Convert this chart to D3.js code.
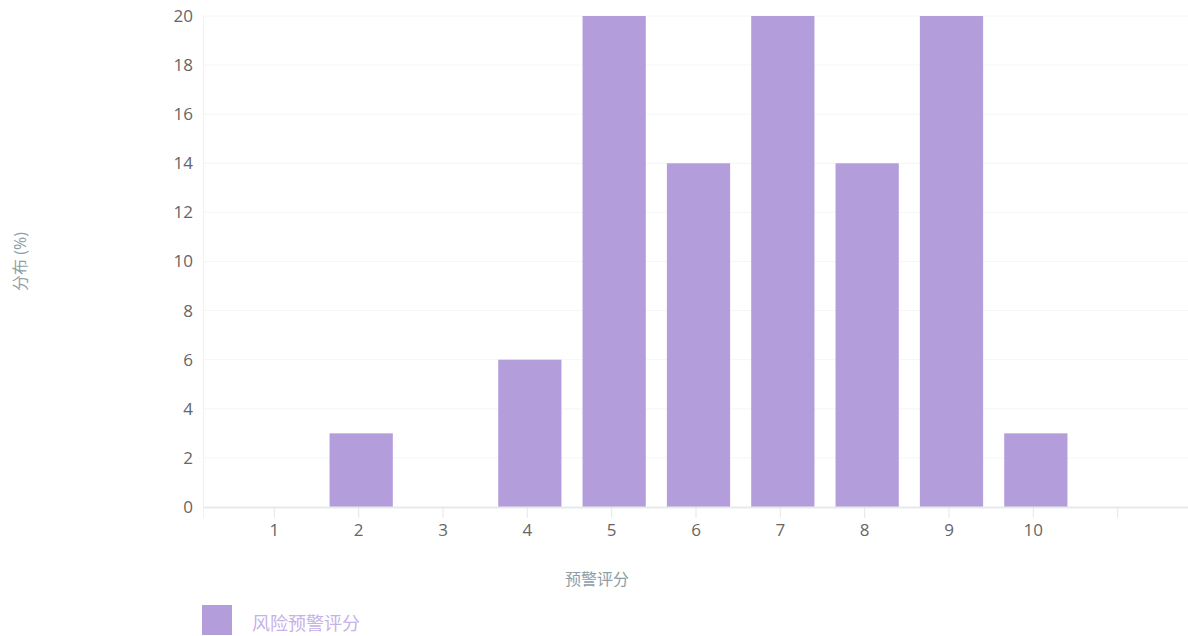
<!DOCTYPE html>
<html>
<head>
<meta charset="utf-8">
<script src="https://cdn.jsdelivr.net/npm/d3@7"></script>
<style>
  body { margin: 0; background: #fff; }
  svg { display: block; font-family: "Open Sans", "Noto Sans CJK SC", sans-serif; }
</style>
</head>
<body>
<script>
const WIDTH = 1188;
const HEIGHT = 636;

var categories = ['1', '2', '3', '4', '5', '6', '7', '8', '9', '10', ''];
var values = [0, 3, 0, 6, 20, 14, 20, 14, 20, 3, 0];
var yTicks = [0, 2, 4, 6, 8, 10, 12, 14, 16, 18, 20];
var seriesName = '风险预警评分';
var xTitle = '预警评分';
var yTitle = '分布 (%)';

var plotLeft = 203, plotRight = 1188, plotTop = 16, plotBottom = 507;
var FONT = '"Open Sans", "Noto Sans CJK SC", sans-serif';

var svg = d3.select('body').append('svg')
    .attr('width', WIDTH)
    .attr('height', HEIGHT);

var xScale = d3.scalePoint()
    .domain(d3.range(categories.length))
    .range([plotLeft, plotRight])
    .padding(0.84);
var yScale = d3.scaleLinear()
    .domain([0, 20])
    .range([plotBottom, plotTop]);

// grid
svg.append('g')
    .selectAll('line')
    .data(yTicks.slice(1))
    .enter()
    .append('line')
    .attr('x1', plotLeft)
    .attr('x2', plotRight)
    .attr('y1', function (d) { return yScale(d); })
    .attr('y2', function (d) { return yScale(d); })
    .attr('stroke', '#f5f6f7')
    .attr('stroke-width', 1);

// left border
svg.append('line')
    .attr('x1', plotLeft + 0.5).attr('x2', plotLeft + 0.5)
    .attr('y1', plotTop).attr('y2', plotBottom + 11)
    .attr('stroke', '#f0f1f2');

var barWidth = xScale.step() * 0.75;
svg.append('g')
    .selectAll('rect')
    .data(values)
    .enter()
    .append('rect')
    .attr('x', function (d, i) { return xScale(i) + 3 - barWidth / 2; })
    .attr('y', function (d) { return yScale(d); })
    .attr('width', barWidth)
    .attr('height', function (d) { return plotBottom - yScale(d); })
    .attr('fill', '#b39ddb');

// x axis
var xAxis = d3.axisBottom(xScale)
    .tickSize(11)
    .tickPadding(6)
    .tickFormat(function (i) { return categories[i]; });
var gx = svg.append('g')
    .attr('transform', 'translate(0,' + plotBottom + ')')
    .call(xAxis)
    .attr('font-family', FONT)
    .attr('font-size', 17);
gx.select('.domain').attr('d', 'M' + plotLeft + ',0.5H' + plotRight).attr('stroke', '#e8e9ea').attr('stroke-width', 2);
gx.selectAll('.tick line').attr('stroke', '#e6e7e8');
gx.selectAll('.tick text').attr('fill', '#666');

// y axis
var yAxis = d3.axisLeft(yScale)
    .tickValues(yTicks)
    .tickSize(0)
    .tickPadding(10);
var gy = svg.append('g')
    .attr('transform', 'translate(' + plotLeft + ',0)')
    .call(yAxis)
    .attr('font-family', FONT)
    .attr('font-size', 17);
gy.select('.domain').remove();
gy.selectAll('.tick text').attr('fill', '#666');

// axis titles
svg.append('text')
    .attr('x', 597)
    .attr('y', 585)
    .attr('text-anchor', 'middle')
    .attr('fill', '#8d9ea6')
    .style('font-size', '16px')
    .text(xTitle);

svg.append('text')
    .attr('transform', 'translate(26,' + ((plotTop + plotBottom) / 2) + ') rotate(-90)')
    .attr('text-anchor', 'middle')
    .attr('fill', '#8d9ea6')
    .style('font-size', '16px')
    .text(yTitle);

// legend
var legend = svg.append('g').attr('transform', 'translate(202,605)');
legend.append('rect')
    .attr('width', 30)
    .attr('height', 30)
    .attr('fill', '#b39ddb');
legend.append('text')
    .attr('x', 50)
    .attr('y', 25)
    .attr('fill', '#c6b1e8')
    .style('font-size', '18px')
    .text(seriesName);
</script>
</body>
</html>
